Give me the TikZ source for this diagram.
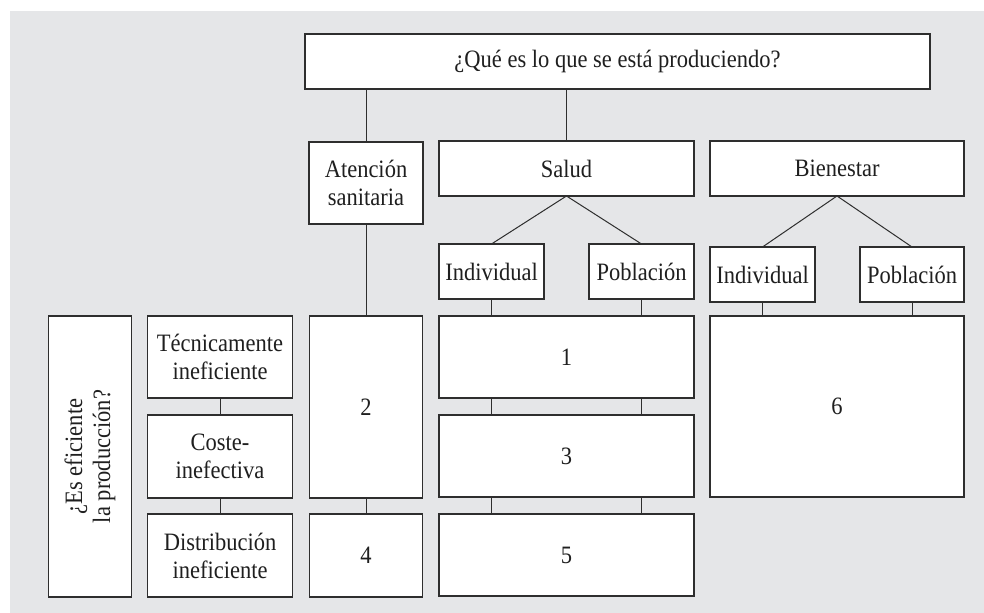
\documentclass[tikz,border=0pt]{standalone}
\usepackage{fontspec}
\setmainfont[FakeStretch=0.9]{Liberation Serif}
\usetikzlibrary{positioning}
\definecolor{panelgray}{HTML}{E5E6E8}
\definecolor{inkgray}{HTML}{2E2E2E}

\begin{document}
\begin{tikzpicture}[
    box/.style={rectangle, draw=inkgray, line width=0.65pt, fill=white, inner sep=2pt, outer sep=0pt,
        align=center, text=black!88, font=\fontsize{12.5}{14}\selectfont},
    link/.style={draw=inkgray, line width=0.5pt}]
    % Background
    \useasboundingbox (0,0) rectangle (492pt,-306.5pt);
    \fill[panelgray] (5pt,-5.5pt) rectangle (492pt,-306.5pt);

    % Nodes
    \node[box, minimum width=312.5pt, minimum height=27.5pt, anchor=north west] (prod) at (152.5pt,-17pt) {¿Qué es lo que se está produciendo?};

    \node[box, minimum width=57pt, minimum height=41pt, anchor=north west] (aten) at (154.5pt,-71pt) {Atención\\sanitaria};
    \node[box, minimum width=127.5pt, minimum height=27.5pt, anchor=north west] (salud) at (219.5pt,-70.5pt) {Salud};
    \node[box, minimum width=127pt, minimum height=27.5pt] (bien) [right=8pt of salud] {Bienestar};

    \node[box, minimum width=52.5pt, minimum height=27.5pt] (sind) [below right=24pt and 0pt of salud.south west] {Individual};
    \node[box, minimum width=52.5pt, minimum height=27.5pt] (spob) [below left=24pt and 0pt of salud.south east] {Población};
    \node[box, minimum width=52.5pt, minimum height=27.5pt] (bind) [below right=25.5pt and 0pt of bien.south west] {Individual};
    \node[box, minimum width=52pt, minimum height=27.5pt] (bpob) [below left=25.5pt and 0pt of bien.south east] {Población};

    \node[box, minimum width=127.5pt, minimum height=41pt] (cell1) [below right=8.5pt and 0pt of sind.south west] {1};
    \node[box, minimum width=127.5pt, minimum height=41pt] (cell3) [below=8.5pt of cell1] {3};
    \node[box, minimum width=127.5pt, minimum height=41pt] (cell5) [below=8.5pt of cell3] {5};
    \node[box, minimum width=127pt, minimum height=90.5pt] (cell6) [below right=7pt and 0pt of bind.south west] {6};

    \node[box, minimum width=56.5pt, minimum height=91pt] (cell2) [below=46pt of aten] {2};
    \node[box, minimum width=56.5pt, minimum height=41.5pt] (cell4) [below=8pt of cell2] {4};

    \node[box, minimum width=72.5pt, minimum height=41pt] (tec) [below left=0pt and 8.5pt of cell2.north west] {Técnicamente\\ineficiente};
    \node[box, minimum width=72.5pt, minimum height=41.5pt] (coste) [below=8.5pt of tec] {Coste-\\inefectiva};
    \node[box, minimum width=72.5pt, minimum height=41.5pt] (dist) [below=8pt of coste] {Distribución\\ineficiente};

    \node[box, minimum width=41.5pt, minimum height=140.5pt] (efic) [below left=0pt and 8pt of tec.north west] {};
    \node[rotate=90, align=center, text=black!88, font=\fontsize{12.5}{14}\selectfont] (eficlabel) at (efic.center) {¿Es eficiente\\la producción?};

    % Connectors
    \draw[link] (aten.north) -- (aten.north |- prod.south);
    \draw[link] (salud.north) -- (salud.north |- prod.south);

    \draw[link] (salud.south) -- (sind.north);
    \draw[link] (salud.south) -- (spob.north);
    \draw[link] (bien.south) -- (bind.north);
    \draw[link] (bien.south) -- (bpob.north);

    \draw[link] (sind.south) -- (sind.south |- cell1.north);
    \draw[link] (spob.south) -- (spob.south |- cell1.north);
    \draw[link] (cell1.south -| sind.south) -- (cell3.north -| sind.south);
    \draw[link] (cell1.south -| spob.south) -- (cell3.north -| spob.south);
    \draw[link] (cell3.south -| sind.south) -- (cell5.north -| sind.south);
    \draw[link] (cell3.south -| spob.south) -- (cell5.north -| spob.south);

    \draw[link] (bind.south) -- (bind.south |- cell6.north);
    \draw[link] (bpob.south) -- (bpob.south |- cell6.north);

    \draw[link] (aten.south) -- (cell2.north);
    \draw[link] (cell2.south) -- (cell4.north);

    \draw[link] (tec.south) -- (coste.north);
    \draw[link] (coste.south) -- (dist.north);
\end{tikzpicture}
\end{document}
